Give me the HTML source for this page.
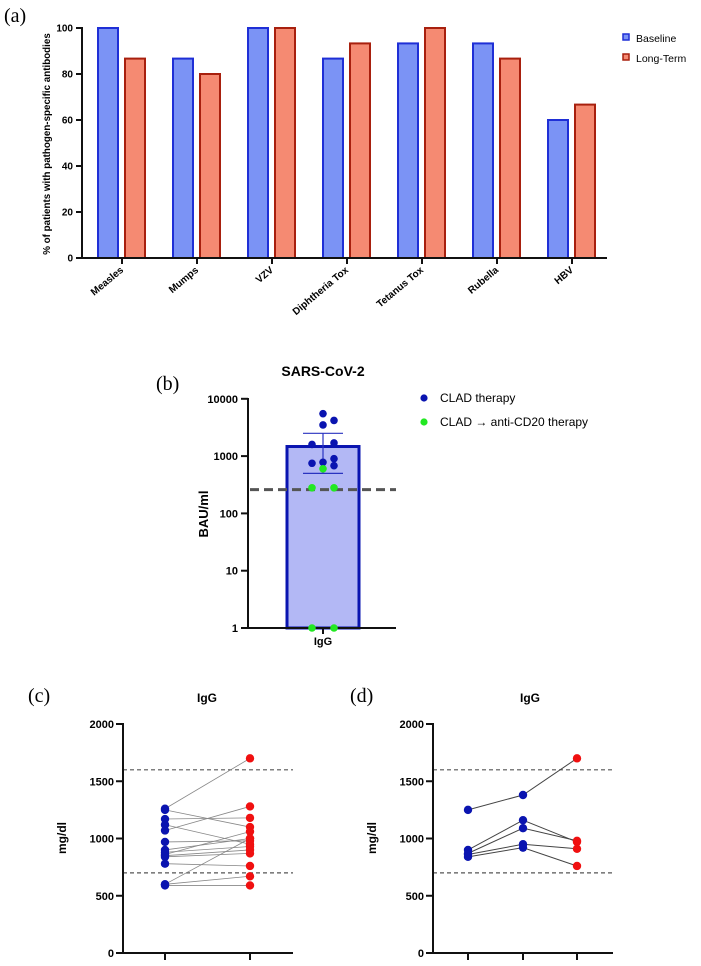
<!DOCTYPE html>
<html><head><meta charset="utf-8">
<style>
body{margin:0;background:#fff;}
svg{display:block;font-family:"Liberation Sans",Arial,sans-serif;}
.lbl{font-family:"Liberation Serif",serif;font-size:20px;}
</style></head>
<body>
<svg id="root" width="701" height="966" viewBox="0 0 701 966">
<text class="lbl" x="4" y="22">(a)</text>
<text class="lbl" x="156" y="390">(b)</text>
<text class="lbl" x="28" y="702">(c)</text>
<text class="lbl" x="350" y="702">(d)</text>
<g id="ga"></g><g id="gb"></g><g id="gc"></g><g id="gd"></g>
</svg>
<script>
// Panel (a)
const catsA = ["Measles","Mumps","VZV","Diphtheria Tox","Tetanus Tox","Rubella","HBV"];
const baselineA = [100,86.7,100,86.7,93.3,93.3,60];
const longTermA = [86.7,80,100,93.3,100,86.7,66.7];
const ticksA = [0,20,40,60,80,100];
// Panel (b)
const valsB = [5500,3500,4200,1600,1700,750,780,900,680,600,280,280,1,1];
const slotB = [0,0,1,-1,1,-1,0,1,1,0,-1,1,-1,1];
const groupB = [0,0,0,0,0,0,0,0,0,1,1,1,1,1];
const meanB = [1470];
const errB = [500,2500];
const cutoffB = [260];
const ticksB = [1,10,100,1000,10000];
// Panel (c)
const baseC = [1260,1250,1170,1120,1070,970,900,880,860,850,840,780,600,600,590];
const longC = [1700,1100,1180,950,1280,980,1000,930,1060,900,870,760,1000,670,590];
// Panel (d)
const d1 = [1250,900,870,860,840];
const d2 = [1380,1160,1090,950,920];
const d3 = [1700,970,980,910,760];
const ticksCD = [0,500,1000,1500,2000];
const refCD = [700,1600];

const NS="http://www.w3.org/2000/svg";
function mk(p,t,a,txt){const e=document.createElementNS(NS,t);for(const k in a)e.setAttribute(k,a[k]);if(txt!==undefined)e.textContent=txt;p.appendChild(e);return e;}

// ---- A
(function(){
const g=document.getElementById('ga');
const y=v=>258-v*2.3, x=i=>122+75*i;
catsA.forEach((c,i)=>{
 let r=mk(g,'rect',{x:x(i)-24,y:y(baselineA[i]),width:20,height:258-y(baselineA[i]),fill:'#7b93f5',stroke:'#1f2fd6','stroke-width':2});
 
 
 r=mk(g,'rect',{x:x(i)+3,y:y(longTermA[i]),width:20,height:258-y(longTermA[i]),fill:'#f58a72',stroke:'#a8200e','stroke-width':2});
 
 
 mk(g,'line',{x1:x(i),x2:x(i),y1:258,y2:264,stroke:'#111','stroke-width':2});
 const t=mk(g,'text',{x:x(i)+2,y:271,'text-anchor':'end','font-size':10,'font-weight':'bold',transform:`rotate(-40 ${x(i)+2} 271)`},c);
 
 
});
mk(g,'line',{x1:82,x2:607,y1:258,y2:258,stroke:'#111','stroke-width':2});
mk(g,'line',{x1:82,x2:82,y1:27,y2:259,stroke:'#111','stroke-width':2});
ticksA.forEach(v=>{mk(g,'line',{x1:76,x2:82,y1:y(v),y2:y(v),stroke:'#111','stroke-width':2});
 mk(g,'text',{x:73,y:y(v)+3.5,'text-anchor':'end','font-size':10,'font-weight':'bold'},v);});
const yt=mk(g,'text',{x:50,y:144,'text-anchor':'middle','font-size':9.8,'font-weight':'bold',transform:'rotate(-90 50 144)'},'% of patients with pathogen-specific antibodies');


[['Baseline','#7b93f5','#1f2fd6',38],['Long-Term','#f58a72','#a8200e',58]].forEach(l=>{
 const lg=mk(g,'g',{});
 
 
 mk(lg,'rect',{x:623,y:l[3]-4,width:6,height:6,fill:l[1],stroke:l[2],'stroke-width':1.5});
 mk(lg,'text',{x:636,y:l[3]+4,'font-size':10.5},l[0]);
});
})();

// ---- B
(function(){
const g=document.getElementById('gb');
const y=v=>628-Math.log10(v)*57.3, cx=323;
const bar=mk(g,'rect',{x:287,y:y(meanB[0]),width:72,height:628-y(meanB[0]),fill:'#b3b8f5',stroke:'#0a14b0','stroke-width':3});


mk(g,'line',{x1:cx,x2:cx,y1:y(errB[1]),y2:y(errB[0]),stroke:'#2a33c0','stroke-width':1.2});
errB.forEach(v=>mk(g,'line',{x1:cx-20,x2:cx+20,y1:y(v),y2:y(v),stroke:'#2a33c0','stroke-width':1.2}));
mk(g,'line',{x1:250,x2:396,y1:y(cutoffB[0]),y2:y(cutoffB[0]),stroke:'#555','stroke-width':3,'stroke-dasharray':'9 5'});
mk(g,'line',{x1:248,x2:248,y1:398,y2:629,stroke:'#111','stroke-width':2});
mk(g,'line',{x1:247,x2:396,y1:628,y2:628,stroke:'#111','stroke-width':2});
valsB.forEach((v,i)=>{const c=mk(g,'circle',{cx:cx+slotB[i]*11,cy:y(v),r:3.8,fill:groupB[i]?'#22e822':'#0a14b0'});
 
 });
ticksB.forEach(v=>{mk(g,'line',{x1:241,x2:248,y1:y(v),y2:y(v),stroke:'#111','stroke-width':2});
 mk(g,'text',{x:238,y:y(v)+4,'text-anchor':'end','font-size':11,'font-weight':'bold'},v);});
mk(g,'line',{x1:cx,x2:cx,y1:628,y2:634,stroke:'#111','stroke-width':2});
mk(g,'text',{x:cx,y:645,'text-anchor':'middle','font-size':11,'font-weight':'bold'},'IgG');
mk(g,'text',{x:cx,y:376,'text-anchor':'middle','font-size':14,'font-weight':'bold'},'SARS-CoV-2');
mk(g,'text',{x:208,y:514,'text-anchor':'middle','font-size':13,'font-weight':'bold',transform:'rotate(-90 208 514)'},'BAU/ml');
[['CLAD therapy','#0a14b0',398],['CLAD \u2192 anti-CD20 therapy','#22e822',422]].forEach(l=>{
 const lg=mk(g,'g',{});
 
 
 mk(lg,'circle',{cx:424,cy:l[2],r:3.6,fill:l[1]});
 mk(lg,'text',{x:440,y:l[2]+4,'font-size':12},l[0]);
});
})();

// ---- C & D shared
function axesCD(g,x0,x1,cx,ticksX){
 const y=v=>953-v*0.1145;
 refCD.forEach(v=>mk(g,'line',{x1:x0,x2:x1,y1:y(v),y2:y(v),stroke:'#555','stroke-width':1.2,'stroke-dasharray':'4 3'}));
 mk(g,'line',{x1:x0,x2:x0,y1:723,y2:954,stroke:'#111','stroke-width':2});
 mk(g,'line',{x1:x0-1,x2:x1,y1:953,y2:953,stroke:'#111','stroke-width':2});
 ticksCD.forEach(v=>{mk(g,'line',{x1:x0-7,x2:x0,y1:y(v),y2:y(v),stroke:'#111','stroke-width':2});
  mk(g,'text',{x:x0-9,y:y(v)+4,'text-anchor':'end','font-size':11,'font-weight':'bold'},v);});
 ticksX.forEach(t=>mk(g,'line',{x1:t,x2:t,y1:953,y2:960,stroke:'#111','stroke-width':2}));
 mk(g,'text',{x:cx,y:702,'text-anchor':'middle','font-size':12,'font-weight':'bold'},'IgG');
 mk(g,'text',{x:x0-57,y:838,'text-anchor':'middle','font-size':12,'font-weight':'bold',transform:`rotate(-90 ${x0-57} 838)`},'mg/dl');
 return y;
}
(function(){
const g=document.getElementById('gc');
const xs=[165,250];
const y=axesCD(g,123,293,207,xs);
baseC.forEach((v,i)=>mk(g,'line',{x1:xs[0],x2:xs[1],y1:y(v),y2:y(longC[i]),stroke:'#888','stroke-width':0.8}));
baseC.forEach(v=>{const c=mk(g,'circle',{cx:xs[0],cy:y(v),r:4.2,fill:'#0a14b0'});
 
 });
longC.forEach(v=>{const c=mk(g,'circle',{cx:xs[1],cy:y(v),r:4.2,fill:'#f01010'});
 
 });
})();
(function(){
const g=document.getElementById('gd');
const xs=[468,523,577];
const y=axesCD(g,433,613,530,xs);
d1.forEach((v,i)=>mk(g,'polyline',{points:`${xs[0]},${y(v)} ${xs[1]},${y(d2[i])} ${xs[2]},${y(d3[i])}`,fill:'none',stroke:'#444','stroke-width':1}));
[[d1,'#0a14b0'],[d2,'#0a14b0'],[d3,'#f01010']].forEach((s,j)=>s[0].forEach(v=>{
 const c=mk(g,'circle',{cx:xs[j],cy:y(v),r:4.2,fill:s[1]});
 
 }));
})();
</script>
</body></html>
